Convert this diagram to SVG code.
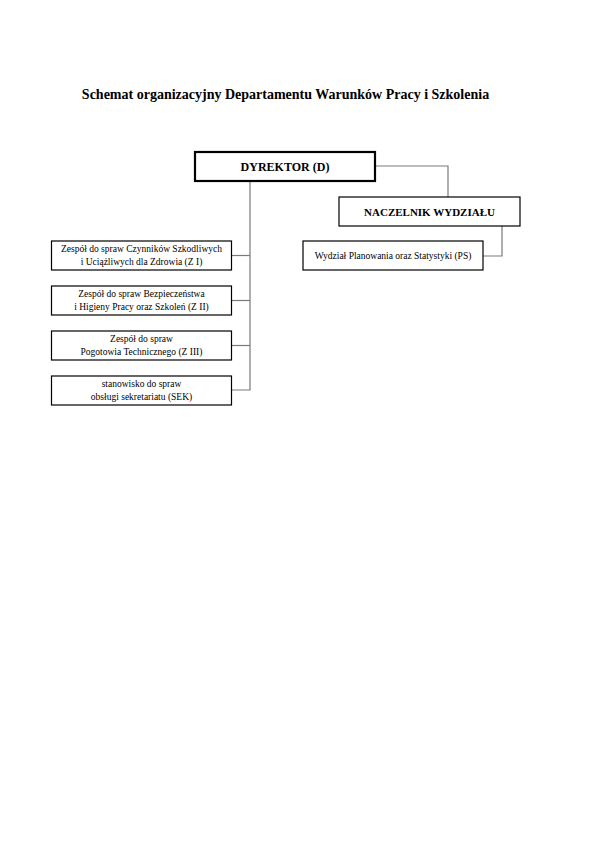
<svg xmlns="http://www.w3.org/2000/svg" width="596" height="842" viewBox="0 0 596 842">
<style>
text{font-family:"Liberation Serif","Times New Roman",serif;fill:#000;text-anchor:middle}
.title{font-size:14px;font-weight:bold}
.head{font-size:12px;font-weight:bold}
.sub{font-size:11px;font-weight:bold}
.small{font-size:9.5px}
.box{fill:#fff;stroke:#000;stroke-width:1.2}
.main{fill:#fff;stroke:#000;stroke-width:2.2}
.conn{fill:none;stroke:#7a7a7a;stroke-width:1.2}
</style>
<rect width="596" height="842" fill="#fff"/>
<text class="title" x="285.5" y="99">Schemat organizacyjny Departamentu Warunków Pracy i Szkolenia</text>
<g id="connectors">
<polyline class="conn" points="375,166 448,166 448,197"/>
<polyline class="conn" points="250,181 250,390 232,390"/>
<line class="conn" x1="232" y1="255.5" x2="250" y2="255.5"/>
<line class="conn" x1="232" y1="300.5" x2="250" y2="300.5"/>
<line class="conn" x1="232" y1="345.5" x2="250" y2="345.5"/>
<polyline class="conn" points="502,226 502,256 483,256"/>
</g>
<g id="dyrektor">
<rect class="main" x="195" y="152" width="180" height="29"/>
<text class="head" x="285" y="170.5">DYREKTOR (D)</text>
</g>
<g id="naczelnik">
<rect class="box" x="339" y="197" width="181" height="29"/>
<text class="sub" x="429.5" y="215.5">NACZELNIK WYDZIAŁU</text>
</g>
<g id="ps">
<rect class="box" x="303" y="241" width="180" height="29"/>
<text class="small" x="393" y="259">Wydział Planowania oraz Statystyki (PS)</text>
</g>
<g id="z1">
<rect class="box" x="51.5" y="241" width="180" height="29"/>
<text class="small" x="141.5" y="252">Zespół do spraw Czynników Szkodliwych</text>
<text class="small" x="141.5" y="265">i Uciążliwych dla Zdrowia (Z I)</text>
</g>
<g id="z2">
<rect class="box" x="51.5" y="286" width="180" height="29"/>
<text class="small" x="141.5" y="297">Zespół do spraw Bezpieczeństwa</text>
<text class="small" x="141.5" y="310">i Higieny Pracy oraz Szkoleń (Z II)</text>
</g>
<g id="z3">
<rect class="box" x="51.5" y="331" width="180" height="29"/>
<text class="small" x="141.5" y="342">Zespół do spraw</text>
<text class="small" x="141.5" y="355">Pogotowia Technicznego (Z III)</text>
</g>
<g id="sek">
<rect class="box" x="51.5" y="376" width="180" height="29"/>
<text class="small" x="141.5" y="387">stanowisko do spraw</text>
<text class="small" x="141.5" y="400">obsługi sekretariatu (SEK)</text>
</g>
</svg>
